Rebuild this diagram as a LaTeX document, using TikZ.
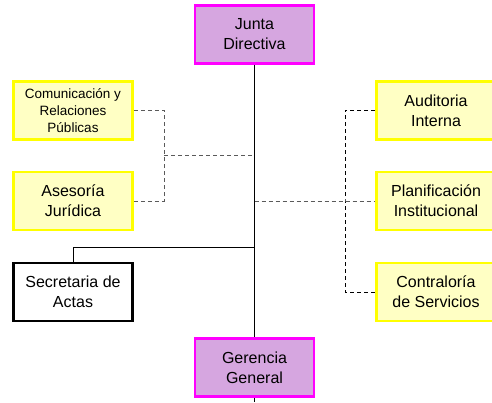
\documentclass[tikz,border=0pt]{standalone}
\usepackage{fontspec}
\setmainfont{Liberation Sans}
\usetikzlibrary{positioning}
\definecolor{boardfill}{RGB}{214,166,224}
\definecolor{boardline}{RGB}{255,0,255}
\definecolor{unitfill}{RGB}{255,255,196}
\definecolor{unitline}{RGB}{255,255,0}
\definecolor{linkgray}{RGB}{90,90,90}
\tikzstyle{orgbox}=[rectangle,draw,line width=2.6pt,minimum width=119pt,minimum height=58pt,inner sep=0pt,align=center,font=\fontsize{16}{20}\selectfont]
\tikzstyle{boardbox}=[orgbox,draw=boardline,fill=boardfill]
\tikzstyle{unitbox}=[orgbox,draw=unitline,fill=unitfill]
\tikzstyle{staffbox}=[orgbox,draw=black,fill=white]
\tikzstyle{advice}=[dashed,dash pattern=on 4pt off 3pt,line width=0.8pt]

\begin{document}
\begin{tikzpicture}[x=1pt,y=-1pt]
  \clip (0,0) rectangle (492,402);
  \useasboundingbox (0,0) rectangle (492,402);

    \foreach \pos/\name/\style/\text in {{(254.5,34.5)/junta/boardbox/Junta\\Directiva}, {(254.5,367.5)/gerencia/boardbox/Gerencia\\General},
        {(73,201)/asesoria/unitbox/Asesoría\\Jurídica}, {(73,292)/secretaria/staffbox/Secretaria de\\Actas},
        {(436,110.5)/auditoria/unitbox/Auditoria\\Interna}, {(436,201)/planif/unitbox/Planificación\\Institucional}, {(436,292)/contral/unitbox/Contraloría\\de Servicios}}
        \node[\style] (\name) at \pos {\text};

  \node[unitbox,font=\fontsize{13.5}{16.7}\selectfont] (comunic) at (73,110.5) {Comunicación y\\Relaciones\\Públicas};

%junctions
  \coordinate (jleft) at (164,155);
  \coordinate (jright) at (345,201);
  \coordinate (jsec) at (254.5,247);
  \coordinate (bottom) at (254.5,402);

  \draw[line width=0.8pt] (junta.south) -- (gerencia.north);
  \draw[line width=0.8pt] (gerencia.south) -- (bottom);
  \draw[line width=0.8pt] (secretaria.north) |- (jsec);

  \draw[advice,linkgray] (comunic.east) -| (jleft);
  \draw[advice,linkgray] (asesoria.east) -| (jleft);
  \draw[advice,linkgray] (jleft) -- (jleft -| junta.south);
  \draw[advice,linkgray] (jright -| junta.south) -- (planif.west);
  \draw[advice] (auditoria.west) -| (jright) |- (contral.west);

\end{tikzpicture}
\end{document}
